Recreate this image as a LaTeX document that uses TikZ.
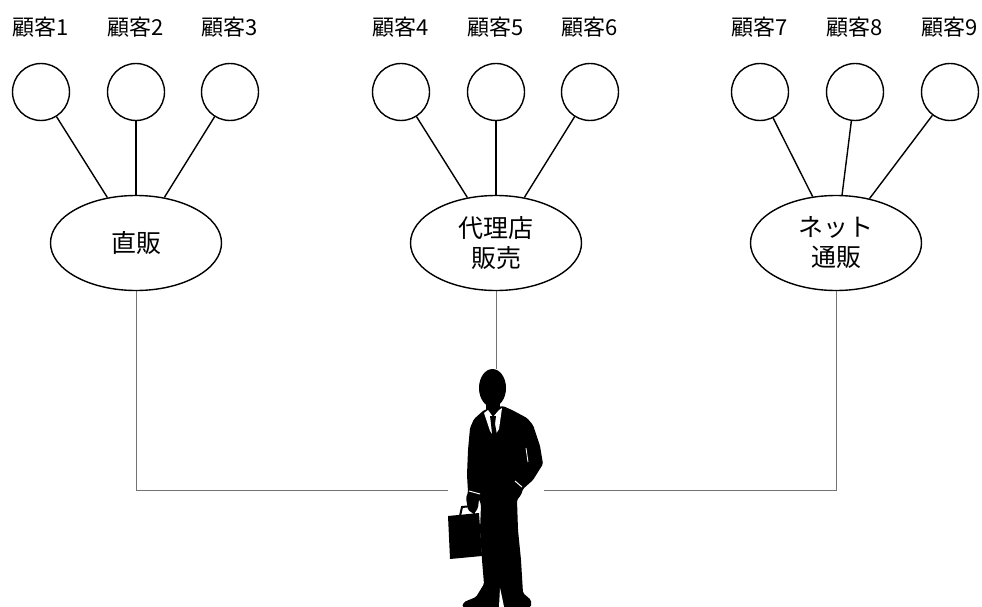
\documentclass[tikz,border=0pt]{standalone}
\usepackage{fontspec}
\setmainfont{Noto Sans CJK JP}
\usetikzlibrary{positioning,shapes.geometric}

\begin{document}
\begin{tikzpicture}[x=1pt,y=-1pt,
  cust/.style={circle,draw=black,line width=1.4pt,minimum size=57pt,inner sep=0pt},
  chan/.style={ellipse,draw=black,line width=1.4pt,minimum width=171pt,minimum height=95pt,
    inner sep=0pt,align=center,font=\fontsize{25}{30}\selectfont},
  tag/.style={font=\fontsize{22}{26}\selectfont},
  link/.style={draw=black,line width=1.4pt},
  wire/.style={draw=black!55,line width=1pt}]
  \useasboundingbox (0,0) rectangle (982,607);

  % customers and their labels
  \foreach \n/\x in {1/41,2/136,3/230,4/401,5/496,6/590,7/760,8/855,9/950} {
    \node[cust] (c\n) at (\x,92) {};
    \node[tag] (t\n) at (\x,27) {顧客\n};
  }

  % sales channels
  \node[chan] (e1) at (136,243) {直販};
  \node[chan] (e2) at (496,243) {代理店\\販売};
  \node[chan] (e3) at (836,243) {ネット\\通販};

  \foreach \n/\e in {1/1,2/1,3/1,4/2,5/2,6/2,7/3,8/3,9/3}
    \draw[link] (c\n) -- (e\e);

  % the salesman
  \node[minimum width=96pt,minimum height=242pt,inner sep=0pt] (man) at (496,490) {};
  \draw[wire] (e1) |- (man.west);
  \draw[wire] (e3) |- (man.east);
  \draw[wire] (e2) -- (man.north);

  \fill[black] (492.5,388) ellipse [x radius=13.5, y radius=19];
  \fill[black] (486,396) rectangle (500,414);
  \fill[black,rounded corners=1.5pt]
    (484,410) -- (474,419) -- (470,428) -- (468,450) -- (467,475) -- (468,492)
    -- (466,498) -- (468,510) -- (474,514) -- (478,508) -- (479,499)
    -- (481,505) -- (480,530) -- (482,560) -- (484,584) -- (476,597) -- (464,602)
    -- (462,607) -- (531,607) -- (531,600) -- (523,593) -- (521,560) -- (518,530)
    -- (517,500) -- (521,495) -- (523,489) -- (533,480) -- (543,464) -- (540,446)
    -- (533,425) -- (527,418) -- (512,410) -- (503,406) -- cycle;
  % shirt collar and tie
  \fill[white] (484,413) -- (488,410) -- (493,417) -- (499,410) -- (502,408)
    -- (499,429) -- (494,437) -- (490,431) -- cycle;
  \fill[black] (490,416) -- (496,416) -- (495,424) -- (498,440) -- (493,444)
    -- (491,424) -- cycle;
  % cuffs and pocket edge
  \draw[white,line width=1pt] (469,491) -- (480,494);
  \draw[white,line width=1pt] (515,481) -- (522,487);
  \draw[white,line width=0.8pt] (526,448) -- (528,462);
  % gap between the legs
  \fill[white] (499,607) -- (500,588) -- (502,597) -- (504,607) -- cycle;
  % briefcase
  \fill[black] (448,516) -- (479,513) -- (482,556) -- (450,559) -- cycle;
  \draw[black,line width=2pt] (460,516) -- (462,507) -- (472,506) -- (474,514);
\end{tikzpicture}
\end{document}
